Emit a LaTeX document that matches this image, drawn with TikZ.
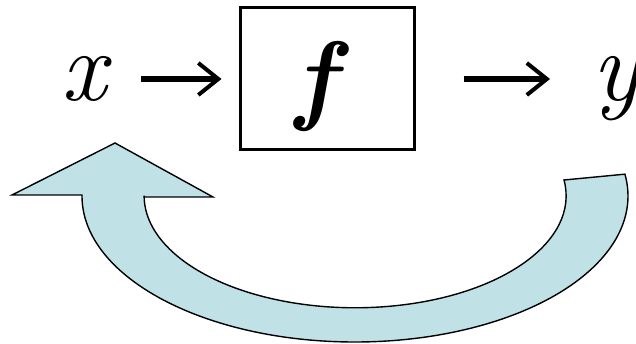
\documentclass[tikz,border=0pt]{standalone}
\usetikzlibrary{arrows.meta}
\definecolor{loopfill}{RGB}{192,226,230}
\begin{document}
\begin{tikzpicture}[x=1pt,y=-1pt,
  sym/.style={inner sep=0pt,outer sep=0pt,anchor=base,font=\fontsize{100}{104}\selectfont},
  fbox/.style={draw,line width=3pt,minimum width=174pt,minimum height=142pt,inner sep=0pt},
  flowarrow/.style={line width=6pt,-{Straight Barb[length=20pt,width=32pt,line width=4pt]}},
  loop/.style={fill=loopfill,draw=black,line width=1.4pt,line join=miter}]
\useasboundingbox (0,0) rectangle (636,344);
\node[sym] (x) at (87,101) {\textit{x}};
\node[fbox] (box) at (327,79) {};
\node[sym] (f) at (322,112) {\textbf{\textit{f}}};
\node[sym,anchor=base west] (y) at (592,101) {\textit{y}};
\draw[flowarrow,shorten <=29pt,shorten >=17pt] (x.east |- box.west) -- (box.west);
\draw[flowarrow,shorten <=48pt,shorten >=42pt] (box.east) -- (y.west |- box.east);
% feedback arrow
\draw[loop] (82,196) arc[start angle=180,end angle=-8.6,x radius=273,y radius=146]
  -- (564,180) arc[start angle=-8.1,end angle=180,x radius=211,y radius=112]
  -- (144,197) -- (213,197) -- (115,143) -- (12,195) -- (82,195) -- cycle;
\end{tikzpicture}
\end{document}
